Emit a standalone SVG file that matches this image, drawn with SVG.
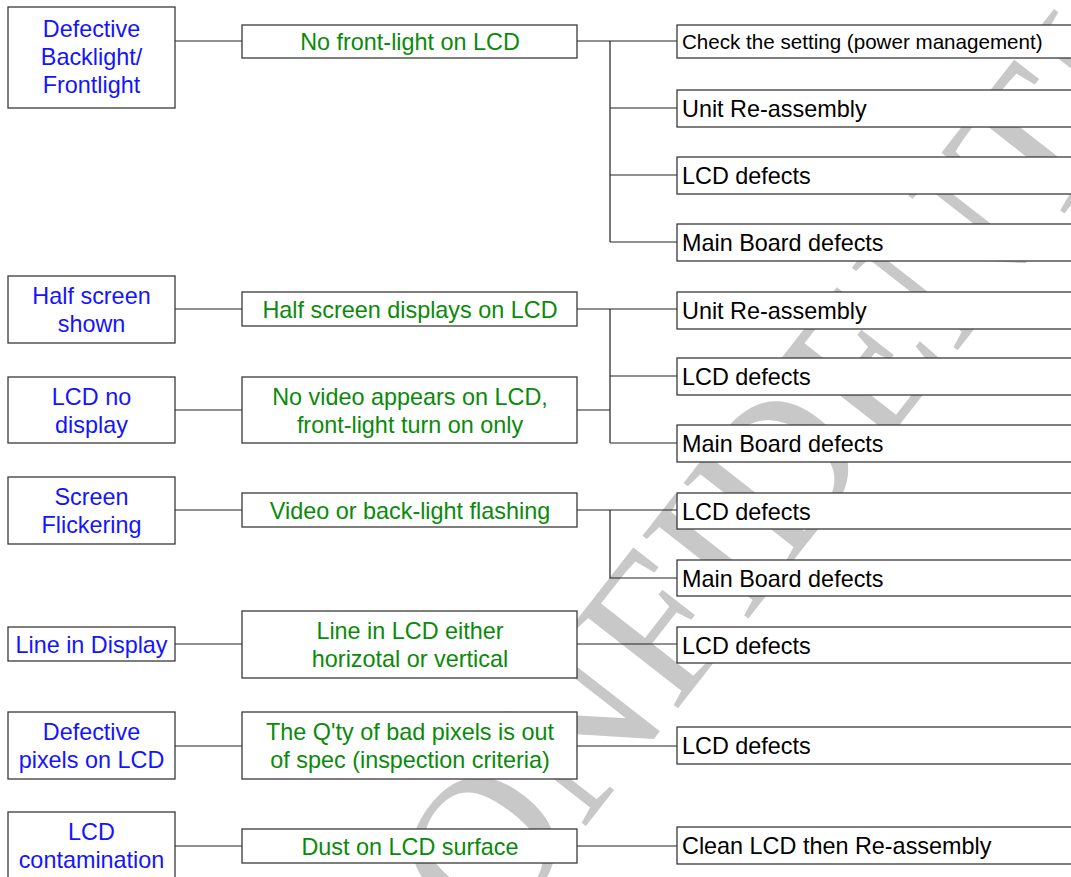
<svg xmlns="http://www.w3.org/2000/svg" width="1071" height="877" viewBox="0 0 1071 877">
<style>
.bx{fill:#fff;stroke:#3a3a3a;stroke-width:1.3}
.ta{font-family:"Liberation Sans",Arial,sans-serif;font-size:23.4px;fill:#1414ff;text-anchor:middle}
.tb{font-family:"Liberation Sans",Arial,sans-serif;font-size:23.4px;fill:#0a8a0a;text-anchor:middle}
.tc{font-family:"Liberation Sans",Arial,sans-serif;font-size:23.4px;fill:#000}
.cn{fill:none;stroke:#222;stroke-width:1.2}
.wm{font-family:"Liberation Serif","Times New Roman",serif;font-size:205px;fill:#c8c8c8;text-anchor:middle;dominant-baseline:central}
</style>
<rect width="1071" height="877" fill="#fff"/>
<text class="wm" x="815" y="420" transform="rotate(-52 815 420)">CONFIDENTIAL</text>
<g id="connectors">
<path class="cn" d="M175 41H242M577 41H677M610 41V242M610 108H677M610 175H677M610 242H677"/>
<path class="cn" d="M175 309H242M175 410H242M577 309H677M577 410H610M610 309V443M610 376H677M610 443H677"/>
<path class="cn" d="M175 510H242M577 510H677M610 510V578H677"/>
<path class="cn" d="M175 644H242M577 644H677"/>
<path class="cn" d="M175 746H242M577 746H677"/>
<path class="cn" d="M175 846H242M577 846H677"/>
</g>
<g id="a1"><rect class="bx" x="8" y="7" width="167" height="101"/><text class="ta" x="91.5" y="37">Defective</text><text class="ta" x="91.5" y="65">Backlight/</text><text class="ta" x="91.5" y="93">Frontlight</text></g>
<g id="a2"><rect class="bx" x="8" y="276" width="167" height="67"/><text class="ta" x="91.5" y="304">Half screen</text><text class="ta" x="91.5" y="332">shown</text></g>
<g id="a3"><rect class="bx" x="8" y="377" width="167" height="66"/><text class="ta" x="91.5" y="405">LCD no</text><text class="ta" x="91.5" y="433">display</text></g>
<g id="a4"><rect class="bx" x="8" y="477" width="167" height="67"/><text class="ta" x="91.5" y="505">Screen</text><text class="ta" x="91.5" y="533">Flickering</text></g>
<g id="a5"><rect class="bx" x="8" y="627" width="167" height="34"/><text class="ta" x="91.5" y="653">Line in Display</text></g>
<g id="a6"><rect class="bx" x="8" y="712" width="167" height="67"/><text class="ta" x="91.5" y="740">Defective</text><text class="ta" x="91.5" y="768">pixels on LCD</text></g>
<g id="a7"><rect class="bx" x="8" y="812" width="167" height="67"/><text class="ta" x="91.5" y="840">LCD</text><text class="ta" x="91.5" y="868">contamination</text></g>
<g id="b1"><rect class="bx" x="242" y="25" width="335" height="33"/><text class="tb" x="410" y="50">No front-light on LCD</text></g>
<g id="b2"><rect class="bx" x="242" y="292" width="335" height="34"/><text class="tb" x="410" y="318">Half screen displays on LCD</text></g>
<g id="b3"><rect class="bx" x="242" y="377" width="335" height="66"/><text class="tb" x="410" y="405">No video appears on LCD,</text><text class="tb" x="410" y="433">front-light turn on only</text></g>
<g id="b4"><rect class="bx" x="242" y="493" width="335" height="34"/><text class="tb" x="410" y="519">Video or back-light flashing</text></g>
<g id="b5"><rect class="bx" x="242" y="611" width="335" height="67"/><text class="tb" x="410" y="639">Line in LCD either</text><text class="tb" x="410" y="667">horizotal or vertical</text></g>
<g id="b6"><rect class="bx" x="242" y="712" width="335" height="67"/><text class="tb" x="410" y="740">The Q'ty of bad pixels is out</text><text class="tb" x="410" y="768">of spec (inspection criteria)</text></g>
<g id="b7"><rect class="bx" x="242" y="829" width="335" height="34"/><text class="tb" x="410" y="855">Dust on LCD surface</text></g>
<g id="c1"><rect class="bx" x="677" y="25" width="420" height="33"/><text class="tc" x="682" y="49" style="font-size:20.6px">Check the setting (power management)</text></g>
<g id="c2"><rect class="bx" x="677" y="90" width="420" height="37"/><text class="tc" x="682" y="117">Unit Re-assembly</text></g>
<g id="c3"><rect class="bx" x="677" y="157" width="420" height="37"/><text class="tc" x="682" y="184">LCD defects</text></g>
<g id="c4"><rect class="bx" x="677" y="224" width="420" height="37"/><text class="tc" x="682" y="251">Main Board defects</text></g>
<g id="c5"><rect class="bx" x="677" y="292" width="420" height="37"/><text class="tc" x="682" y="319">Unit Re-assembly</text></g>
<g id="c6"><rect class="bx" x="677" y="358" width="420" height="37"/><text class="tc" x="682" y="385">LCD defects</text></g>
<g id="c7"><rect class="bx" x="677" y="425" width="420" height="37"/><text class="tc" x="682" y="452">Main Board defects</text></g>
<g id="c8"><rect class="bx" x="677" y="493" width="420" height="36"/><text class="tc" x="682" y="520">LCD defects</text></g>
<g id="c9"><rect class="bx" x="677" y="560" width="420" height="36"/><text class="tc" x="682" y="587">Main Board defects</text></g>
<g id="c10"><rect class="bx" x="677" y="627" width="420" height="36"/><text class="tc" x="682" y="654">LCD defects</text></g>
<g id="c11"><rect class="bx" x="677" y="727" width="420" height="37"/><text class="tc" x="682" y="754">LCD defects</text></g>
<g id="c12"><rect class="bx" x="677" y="827" width="420" height="37"/><text class="tc" x="682" y="854">Clean LCD then Re-assembly</text></g>
</svg>
